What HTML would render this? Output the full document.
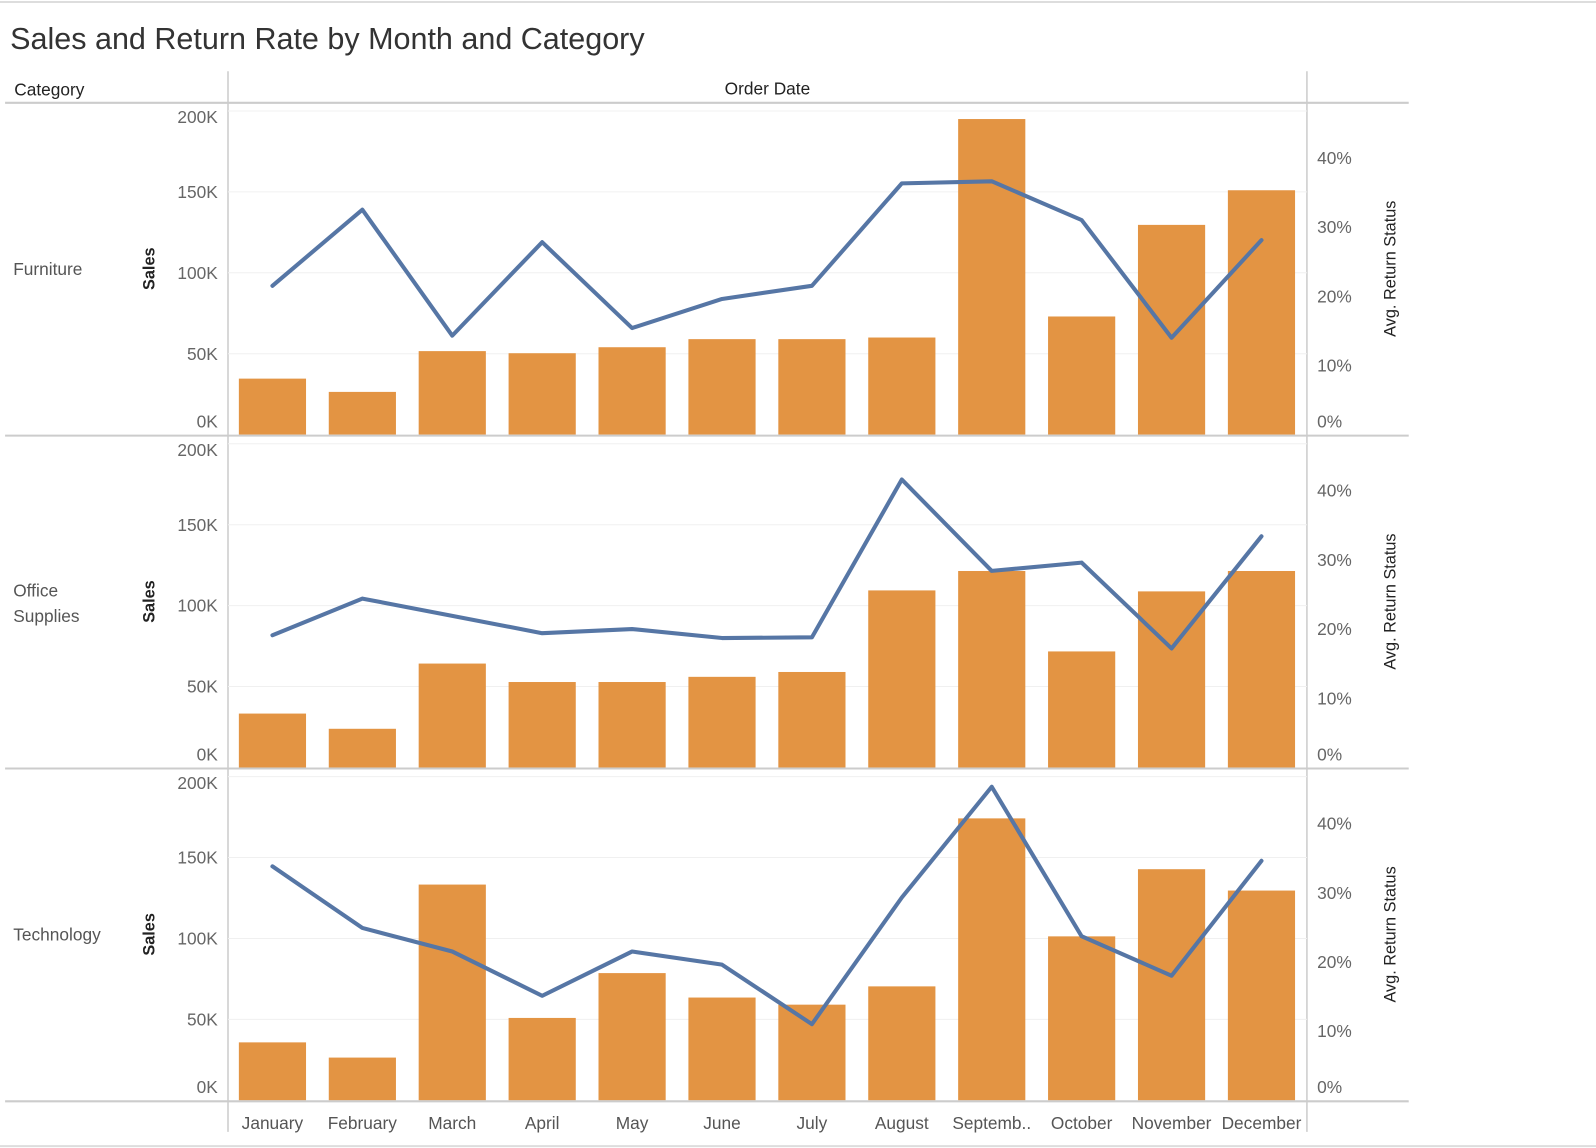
<!DOCTYPE html>
<html><head><meta charset="utf-8">
<style>
html,body{margin:0;padding:0;background:#fff;overflow:hidden;}
#wrap{width:1568px;height:1128px;transform:scale(1.01786);transform-origin:0 0;position:relative;font-family:"Liberation Sans",sans-serif;}
</style></head>
<body>
<div id="wrap">
<svg id="chart" width="1568" height="1128" xmlns="http://www.w3.org/2000/svg"></svg>
</div>
<script>
const months = ["January","February","March","April","May","June","July","August","Septemb..","October","November","December"];
const categories = ["Furniture","Office Supplies","Technology"];
const furnitureSales = [34.6,26.4,51.6,50.3,54,59,59,60,195,73,129.6,151];
const furnitureReturn = [21.5,32.5,14.3,27.8,15.4,19.6,21.5,36.3,36.6,31,14,28.1];
const officeSales = [33.3,23.9,64.2,52.8,52.8,56,59,109.4,121.4,71.7,108.8,121.4];
const officeReturn = [19.1,24.4,21.9,19.4,20,18.7,18.8,41.6,28.4,29.6,17.2,33.4];
const techSales = [35.8,26.4,133.3,50.9,78.6,63.5,59.1,70.4,174.2,101.3,142.8,129.6];
const techReturn = [33.8,24.9,21.5,15.1,21.5,19.6,11,29.3,45.3,23.7,18,34.6];
const salesTicks = [0,50,100,150,200];
const salesTickLabels = ["0K","50K","100K","150K","200K"];
const pctTicks = [0,10,20,30,40];
const pctTickLabels = ["0%","10%","20%","30%","40%"];

const NS="http://www.w3.org/2000/svg";
const svg=document.getElementById('chart');
function mk(tag,attrs,parent){const e=document.createElementNS(NS,tag);for(const k in attrs)e.setAttribute(k,attrs[k]);(parent||svg).appendChild(e);return e;}
const plotL=224, plotR=1284, step=(plotR-plotL)/12, barW=66;
const xC=i=>plotL+step*(i+0.5)-0.5;

mk('line',{x1:0,y1:2,x2:1568,y2:2,stroke:'#ddd','stroke-width':2});
let t=mk('text',{x:10,y:48,'font-size':30,fill:'#333','font-weight':300});t.textContent='Sales and Return Rate by Month and Category';


t=mk('text',{x:14,y:94,'font-size':17,fill:'#222'});t.textContent='Category';


t=mk('text',{x:754,y:93,'font-size':17,fill:'#222','text-anchor':'middle'});t.textContent='Order Date';


mk('line',{x1:5,y1:101,x2:1384,y2:101,stroke:'#ccc','stroke-width':2});
mk('line',{x1:224,y1:70,x2:224,y2:1112,stroke:'#ccc','stroke-width':1.5});
mk('line',{x1:1284,y1:70,x2:1284,y2:1112,stroke:'#ccc','stroke-width':1.5});

const panels=[[furnitureSales,furnitureReturn],[officeSales,officeReturn],[techSales,techReturn]];
const catLabels=[["Furniture"],["Office","Supplies"],["Technology"]];
panels.forEach((p,pi)=>{
  const base=427+pi*327;
  const yS=v=>base-v*1.59;
  const yP=v=>base-v*6.8;
  const g=mk('g',{});
  
  
  salesTicks.forEach((v,i)=>{
    if(v>0) mk('line',{x1:plotL,y1:yS(v),x2:plotR,y2:yS(v),stroke:'#f0f0f0','stroke-width':1},g);
    const ly = i==0 ? base-7 : (i==salesTicks.length-1 ? yS(v)+12 : yS(v)+6);
    const tt=mk('text',{x:214,y:ly,'font-size':17,fill:'#666','text-anchor':'end'},g);
    tt.textContent=salesTickLabels[i];
    
    
  });
  pctTicks.forEach((v,i)=>{
    const tt=mk('text',{x:1294,y:(i==0?base-7:yP(v)+6),'font-size':17,fill:'#666'},g);
    tt.textContent=pctTickLabels[i];
    
    
  });
  const midY=base-163;
  catLabels[pi].forEach((s,j)=>{
    const tt=mk('text',{x:13,y:midY+(catLabels[pi].length==1?6:-5+j*25),'font-size':17,fill:'#555'},g);
    tt.textContent=s;
    
    
  });
  let a=mk('text',{x:0,y:0,'font-size':16,fill:'#222','font-weight':'bold','text-anchor':'middle',transform:`translate(152,${midY}) rotate(-90)`},g);
  a.textContent='Sales';
  
  
  a=mk('text',{x:0,y:0,'font-size':16,fill:'#222','text-anchor':'middle',transform:`translate(1371,${midY}) rotate(-90)`},g);
  a.textContent='Avg. Return Status';
  
  
  p[0].forEach((v,i)=>{
    const r=mk('rect',{x:xC(i)-barW/2,y:yS(v),width:barW,height:base-yS(v),fill:'#E39443'},g);
    
    
  });
  const pts=p[1].map((v,i)=>xC(i)+','+yP(v)).join(' ');
  const l=mk('polyline',{points:pts,fill:'none',stroke:'#5676A5','stroke-width':4,'stroke-linejoin':'round','stroke-linecap':'round'},g);
  
  
  mk('line',{x1:5,y1:base+1,x2:1384,y2:base+1,stroke:'#ccc','stroke-width':2},g);
});
months.forEach((m,i)=>{
  const tt=mk('text',{x:xC(i),y:1109,'font-size':17,fill:'#555','text-anchor':'middle'});
  tt.textContent=m;
  
  
});
mk('line',{x1:0,y1:1126,x2:1568,y2:1126,stroke:'#ddd','stroke-width':2});
</script>
</body></html>
